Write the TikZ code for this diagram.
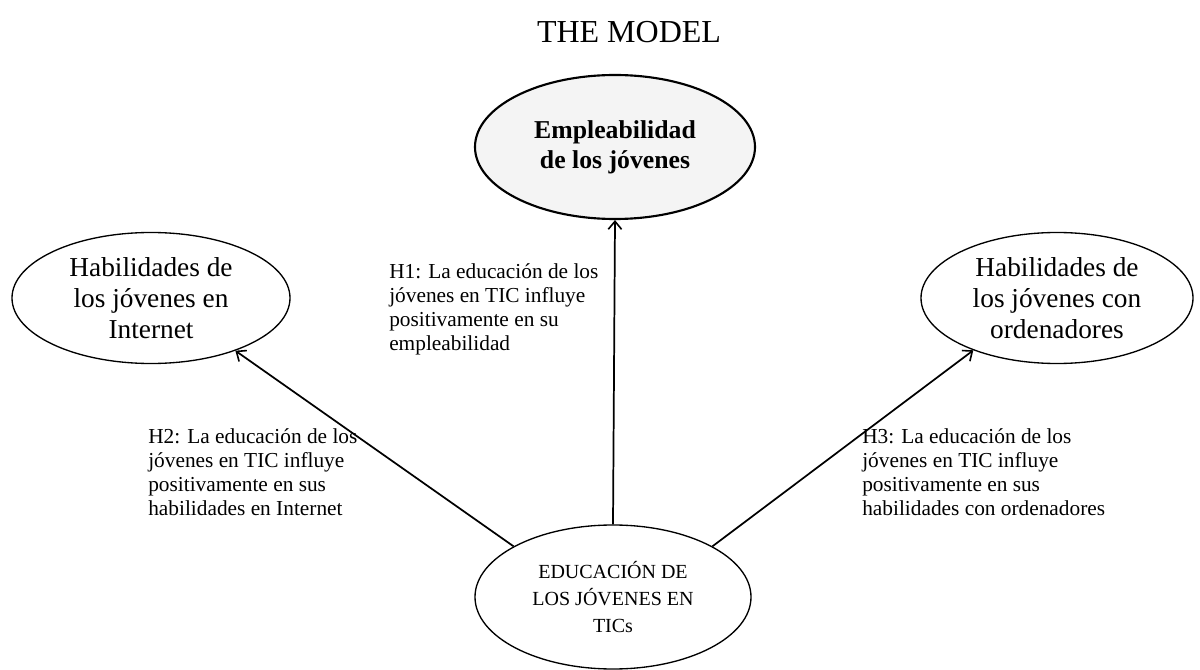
\documentclass[tikz,border=0pt]{standalone}
\usepackage{fontspec}
\setmainfont{Liberation Serif}
\usetikzlibrary{shapes.geometric,arrows.meta}
\begin{document}
\begin{tikzpicture}[x=0.75pt,y=-0.75pt,
  oval/.style={ellipse,draw,line width=1pt,inner sep=0pt,align=center},
  lbl/.style={anchor=north west,inner sep=0pt,align=left,font=\fontsize{16}{18}\selectfont},
  conn/.style={line width=1.3pt,-{Straight Barb[length=6pt,width=10pt,line width=1.2pt]}}]
\useasboundingbox (0,0) rectangle (1200,670);
\node (title) at (629,32) {\fontsize{24}{28}\selectfont THE MODEL};
\node[oval,line width=1.6pt,fill=gray!9,minimum width=280*0.75pt,minimum height=144*0.75pt,font=\fontsize{19.3}{22.5}\selectfont\bfseries] (emp) at (615,147) {Empleabilidad\\de los jóvenes};
\node[oval,minimum width=278*0.75pt,minimum height=131*0.75pt,font=\fontsize{20.5}{23.2}\selectfont] (inet) at (151,298) {Habilidades de\\los jóvenes en\\Internet};
\node[oval,minimum width=272*0.75pt,minimum height=131*0.75pt,font=\fontsize{20.5}{23.2}\selectfont] (ord) at (1057,298) {Habilidades de\\los jóvenes con\\ordenadores};
\node[oval,minimum width=276*0.75pt,minimum height=144*0.75pt,font=\fontsize{15}{20}\selectfont] (edu) at (613,597) {EDUCACIÓN DE\\LOS JÓVENES EN\\TICs};
\draw[conn] (edu.north) -- (emp.south);
\draw[conn] (edu.153) -- (inet.-32.8);
\draw[conn] (edu.27.2) -- (ord.212);
\node[lbl] (h1) at (389,263) {H1: La educación de los\\jóvenes en TIC influye\\positivamente en su\\empleabilidad};
\node[lbl] (h2) at (148,428) {H2: La educación de los\\jóvenes en TIC influye\\positivamente en sus\\habilidades en Internet};
\node[lbl] (h3) at (862,428) {H3: La educación de los\\jóvenes en TIC influye\\positivamente en sus\\habilidades con ordenadores};
\end{tikzpicture}
\end{document}
